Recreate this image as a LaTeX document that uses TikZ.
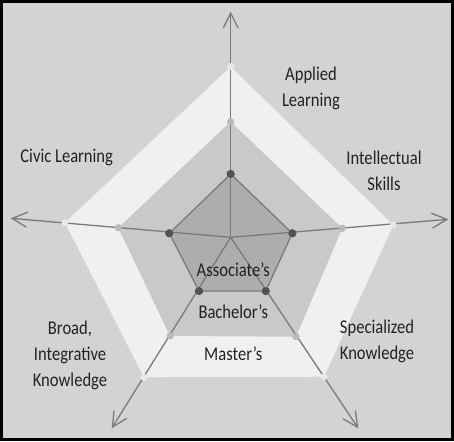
\documentclass[tikz,border=0pt]{standalone}
\usepackage{fontspec}
\setmainfont[FakeStretch=0.85]{Carlito}
\usepackage{tikz}
\usetikzlibrary{arrows.meta}
\definecolor{bgray}{HTML}{D3D3D3}
\definecolor{mband}{HTML}{F0F0F0}
\definecolor{bband}{HTML}{C9C9C9}
\definecolor{aband}{HTML}{ADADAD}
\definecolor{axgray}{HTML}{7A7A7A}
\definecolor{txtgray}{HTML}{222222}
\tikzset{
  axis/.style={draw=axgray,line width=1.3pt,-{Straight Barb[length=15pt,width=15pt,line width=1.3pt]}},
  adot/.style={circle,fill=black!68,inner sep=0pt,minimum size=8pt},
  bdot/.style={circle,fill=black!27,inner sep=0pt,minimum size=7pt},
  mdot/.style={circle,fill=black!9,inner sep=0pt,minimum size=7pt},
  lbl/.style={text=txtgray,align=center,font=\fontsize{19.5}{26}\selectfont},
}
\begin{document}
\begin{tikzpicture}[x=1pt,y=-1pt,>=stealth]

% Frame
\fill[bgray] (0,0) rectangle (454,441);
\draw[line width=2.6pt] (1.3,1.3) rectangle (452.7,439.7);
\useasboundingbox (0,0) rectangle (454,441);

% Points
\coordinate (o) at (230.7,237.3);
\coordinate (e1) at (230.7,11.7);
\coordinate (e2) at (448.3,219.3);
\coordinate (e3) at (358.3,428.3);
\coordinate (e4) at (111.7,428.3);
\coordinate (e5) at (10.7,218.3);

% Bands
\fill[mband] (230.7,66.7) -- (393.3,225) -- (324,376.7) -- (144,377.3) -- (65,222.7) -- cycle;
\fill[bband] (230.7,121.7) -- (342.3,228.3) -- (296,336.7) -- (170,336) -- (118.3,227.7) -- cycle;

% Nodes
\node[mdot] (m1) at (230.7,66.7) {};
\node[mdot] (m2) at (393.3,225) {};
\node[mdot] (m3) at (324,376.7) {};
\node[mdot] (m4) at (144,377.3) {};
\node[mdot] (m5) at (65,222.7) {};
\node[bdot] (b1) at (230.7,121.7) {};
\node[bdot] (b2) at (342.3,228.3) {};
\node[bdot] (b3) at (296,336.7) {};
\node[bdot] (b4) at (170,336) {};
\node[bdot] (b5) at (118.3,227.7) {};
\node[adot] (a1) at (230.7,174) {};
\node[adot] (a2) at (292.3,233.3) {};
\node[adot] (a3) at (265.7,291) {};
\node[adot] (a4) at (199,291) {};
\node[adot] (a5) at (169.3,233.3) {};

% Inner pentagon
\fill[aband] (a1.center) -- (a2.center) -- (a3.center) -- (a4.center) -- (a5.center) -- cycle;
\draw[axgray,line width=1.3pt] (a1) -- (a2) -- (a3) -- (a4) -- (a5) -- (a1);

% Edges
\draw[axis] (o) -- (e1);
\draw[axis] (o) -- (e2);
\draw[axis] (o) -- (e3);
\draw[axis] (o) -- (e4);
\draw[axis] (o) -- (e5);

% Dots on top
\foreach \n in {m1,m2,m3,m4,m5} \fill[black!9] (\n) circle (3.5pt);
\foreach \n in {b1,b2,b3,b4,b5} \fill[black!27] (\n) circle (3.5pt);
\foreach \n in {a1,a2,a3,a4,a5} \fill[black!68] (\n) circle (4pt);

% Labels
\node[lbl] (applied) at (311,88) {Applied\\Learning};
\node[lbl] (intel) at (384,171) {Intellectual\\Skills};
\node[lbl] (civic) at (66.7,157.7) {Civic Learning};
\node[lbl] (broad) at (70,355) {Broad,\\Integrative\\Knowledge};
\node[lbl] (spec) at (377,341.7) {Specialized\\Knowledge};
\node[lbl] (assoc) at (233.3,269.3) {Associate’s};
\node[lbl] (bach) at (233.3,311.7) {Bachelor’s};
\node[lbl] (mast) at (233.3,354) {Master’s};

\end{tikzpicture}
\end{document}
